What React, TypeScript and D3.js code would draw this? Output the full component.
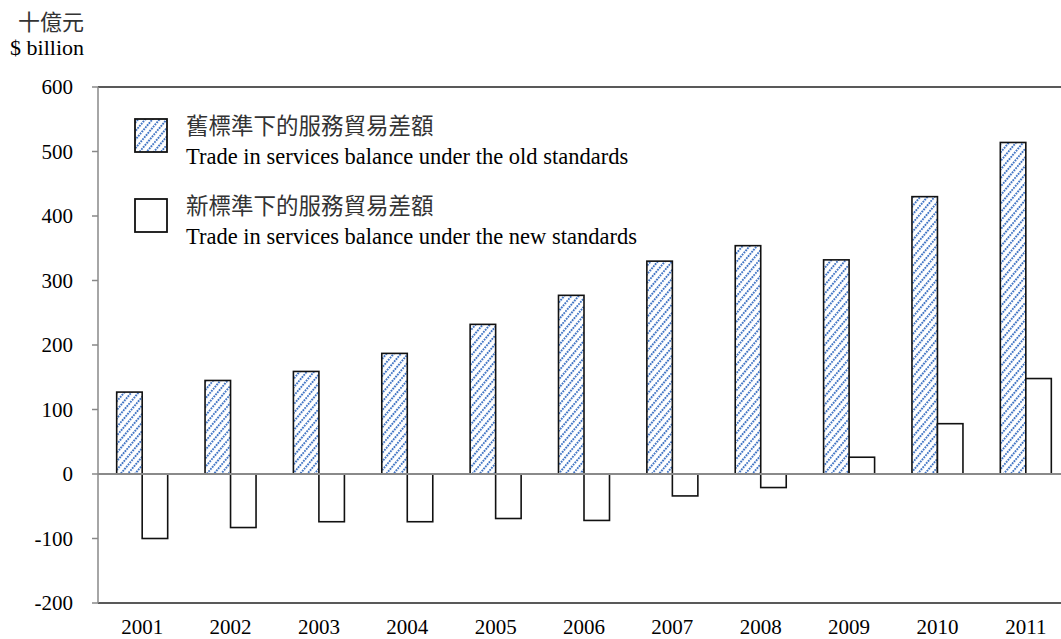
import * as d3 from 'd3';

const years = ['2001', '2002', '2003', '2004', '2005', '2006', '2007', '2008', '2009', '2010', '2011'];
const oldStandard = [127, 145, 159, 187, 232, 277, 330, 354, 332, 430, 514];
const newStandard = [-100, -83, -74, -74, -69, -72, -34, -21, 26, 78, 148];
const yTicks = [-200, -100, 0, 100, 200, 300, 400, 500, 600];

const legendItems = [
  { zh: '舊標準下的服務貿易差額', en: 'Trade in services balance under the old standards', hatched: true },
  { zh: '新標準下的服務貿易差額', en: 'Trade in services balance under the new standards', hatched: false },
];

const W = 1061;
const H = 639;
const left = 98;
const right = 1070; // plot runs past the picture edge, as in the source
const top = 87;
const bottom = 603;

const serif = '"Liberation Serif", "Times New Roman", serif';
const cjk = '"Noto Sans CJK TC", sans-serif';

export default function App() {
  const x = d3.scaleBand<string>().domain(years).range([left, right]).paddingInner(0).paddingOuter(0);
  const y = d3.scaleLinear().domain([-200, 600]).range([bottom, top]);
  const barW = 25.5;
  const y0 = y(0);

  return (
    <svg
      width={W}
      height={H}
      viewBox={`0 0 ${W} ${H}`}
      style={{ position: 'absolute', left: 0, top: 0, background: '#fff' }}
    >
      <defs>
        <pattern id="hatch" width="5.5" height="5.5" patternUnits="userSpaceOnUse" patternTransform="rotate(40)">
          <rect width="5.5" height="5.5" fill="#fff" />
          <line x1="1" y1="0" x2="1" y2="5.5" stroke="#3f73c4" strokeWidth="1.9" strokeDasharray="1.9 0.85" />
        </pattern>
      </defs>

      {/* unit labels */}
      <text x={84} y={30} textAnchor="end" fontFamily={cjk} fontSize={22} fill="#333">十億元</text>
      <text x={84} y={55} textAnchor="end" fontFamily={serif} fontSize={22} fill="#000">$ billion</text>

      {/* frame */}
      <line x1={left} x2={W} y1={top} y2={top} stroke="#222" strokeWidth={1.5} />
      <line x1={left} x2={W} y1={bottom} y2={bottom} stroke="#222" strokeWidth={1.5} />
      <line x1={left} x2={left} y1={top} y2={bottom} stroke="#888" strokeWidth={1.5} />

      {yTicks.map((t) => (
        <g key={t}>
          <line x1={left - 6} x2={left} y1={y(t)} y2={y(t)} stroke="#888" strokeWidth={1.5} />
          <text x={73} y={y(t) + 7} textAnchor="end" fontFamily={serif} fontSize={21} fill="#000">
            {t}
          </text>
        </g>
      ))}

      {/* bars */}
      {years.map((yr, i) => {
        const c = (x(yr) ?? 0) + x.bandwidth() / 2;
        const o = oldStandard[i];
        const n = newStandard[i];
        return (
          <g key={yr}>
            <rect
              x={c - barW}
              y={y(Math.max(0, o))}
              width={barW}
              height={Math.abs(y(o) - y0)}
              fill="url(#hatch)"
              stroke="#111"
              strokeWidth={1.6}
            />
            <rect
              x={c}
              y={y(Math.max(0, n))}
              width={barW}
              height={Math.abs(y(n) - y0)}
              fill="#fff"
              stroke="#111"
              strokeWidth={1.6}
            />
            <text x={c} y={634} textAnchor="middle" fontFamily={serif} fontSize={21} fill="#000">
              {yr}
            </text>
          </g>
        );
      })}

      {/* zero line */}
      <line x1={left} x2={W} y1={y0} y2={y0} stroke="#8a8a8a" strokeWidth={1.8} />

      {/* legend */}
      {legendItems.map((d, i) => {
        const ly = 119 + i * 80;
        return (
          <g key={d.en}>
            <rect
              x={135}
              y={ly}
              width={32}
              height={33}
              fill={d.hatched ? 'url(#hatch)' : '#fff'}
              stroke="#111"
              strokeWidth={1.8}
            />
            <text x={186} y={ly + 14.5} fontFamily={cjk} fontSize={22.5} fill="#333">{d.zh}</text>
            <text x={186} y={ly + 45} fontFamily={serif} fontSize={22.5} fill="#000">{d.en}</text>
          </g>
        );
      })}
    </svg>
  );
}
